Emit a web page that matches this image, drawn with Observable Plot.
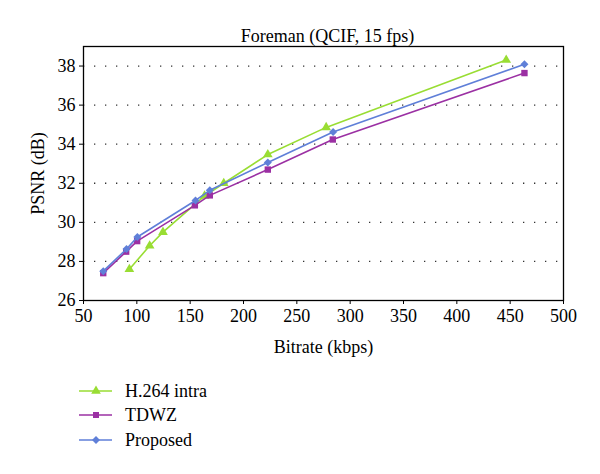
<!DOCTYPE html>
<html>
<head>
<meta charset="utf-8">
<script src="https://cdn.jsdelivr.net/npm/d3@7"></script>
<script src="https://cdn.jsdelivr.net/npm/@observablehq/plot@0.6"></script>
<style>
  html, body { margin: 0; padding: 0; background: #fff; }
  #chart svg { display: block; }
  #legend svg { display: block; }
</style>
</head>
<body>
<div id="chart"></div>
<div id="legend"></div>
<script>
const title = "Foreman (QCIF, 15 fps)";
const xLabel = "Bitrate (kbps)";
const yLabel = "PSNR (dB)";
const seriesNames = ["H.264 intra", "TDWZ", "Proposed"];
const seriesColors = ["#99dd33", "#9b30a3", "#5f7fd8"];
const seriesSymbols = ["triangle", "square", "diamond2"];

const h264Bitrate = [93, 112, 124.5, 163.5, 181.5, 222.8, 277.5, 446.3];
const h264Psnr = [27.6, 28.8, 29.5, 31.35, 32.0, 33.47, 34.86, 38.31];
const tdwzBitrate = [68.5, 90, 100.3, 154.4, 168.4, 222.8, 283.7, 463.4];
const tdwzPsnr = [27.4, 28.5, 29.04, 30.87, 31.38, 32.7, 34.24, 37.64];
const propBitrate = [68.5, 90.3, 100.5, 155, 168.4, 222.8, 284, 463.4];
const propPsnr = [27.5, 28.63, 29.25, 31.12, 31.64, 33.06, 34.62, 38.09];

const xTicks = [50, 100, 150, 200, 250, 300, 350, 400, 450, 500];
const yTicks = [26, 28, 30, 32, 34, 36, 38];
const yGrid = [28, 30, 32, 34, 36, 38];

const seriesData = [
  [h264Bitrate, h264Psnr],
  [tdwzBitrate, tdwzPsnr],
  [propBitrate, propPsnr]
];
const rows = seriesData.flatMap(([xs, ys], i) =>
  xs.map((x, j) => ({series: seriesNames[i], bitrate: x, psnr: ys[j]}))
);

const font = "'Liberation Serif', 'DejaVu Serif', serif";

const marks = [
  Plot.gridY(yGrid, {stroke: "#333", strokeOpacity: 1, strokeWidth: 1.3, strokeDasharray: "1.3,9.7"}),
  Plot.frame({stroke: "#000", strokeWidth: 1.3}),
  Plot.axisX({ticks: xTicks, tickSize: 4, tickPadding: 5, fontSize: 18, label: xLabel, labelAnchor: "center", labelArrow: "none", labelOffset: 52}),
  Plot.axisY({ticks: yTicks, tickSize: 4, tickPadding: 4, fontSize: 18, label: yLabel, labelAnchor: "center", labelArrow: "none", labelOffset: 52}),
  Plot.text([title], {frameAnchor: "top", dy: -17, fontSize: 18, fill: "#000", dx: 4})
];
seriesNames.forEach((name, i) => {
  const d = rows.filter(r => r.series === name);
  marks.push(Plot.line(d, {x: "bitrate", y: "psnr", stroke: seriesColors[i], strokeWidth: 1.6}));
  marks.push(Plot.dot(d, {x: "bitrate", y: "psnr", fill: seriesColors[i], symbol: seriesSymbols[i], r: 3.6, stroke: "none"}));
});

const chart = Plot.plot({
  width: 600,
  height: 370,
  marginLeft: 83,
  marginRight: 37,
  marginTop: 46,
  marginBottom: 70,
  style: {fontFamily: font, fontSize: "18px", color: "#000", background: "#fff"},
  x: {domain: [50, 500]},
  y: {domain: [26, 39]},
  marks
});
document.getElementById("chart").appendChild(chart);

// Legend
const lg = d3.select("#legend").append("svg")
  .attr("width", 600).attr("height", 104)
  .style("font-family", font);
const rowY = [21, 45, 70];
seriesNames.forEach((name, i) => {
  const g = lg.append("g").attr("transform", `translate(0,${rowY[i]})`);
  g.append("line").attr("x1", 79).attr("x2", 112).attr("y1", 0).attr("y2", 0)
    .attr("stroke", seriesColors[i]).attr("stroke-width", 1.6);
  g.append("path").attr("transform", "translate(96,0)")
    .attr("d", d3.symbol(
      [d3.symbolTriangle, d3.symbolSquare, d3.symbolDiamond2][i],
      [40, 36, 40][i])())
    .attr("fill", seriesColors[i]);
  g.append("text").attr("x", 125).attr("y", 0).attr("dy", "0.35em")
    .attr("font-size", 18).attr("fill", "#000").text(name);
});
</script>
</body>
</html>
